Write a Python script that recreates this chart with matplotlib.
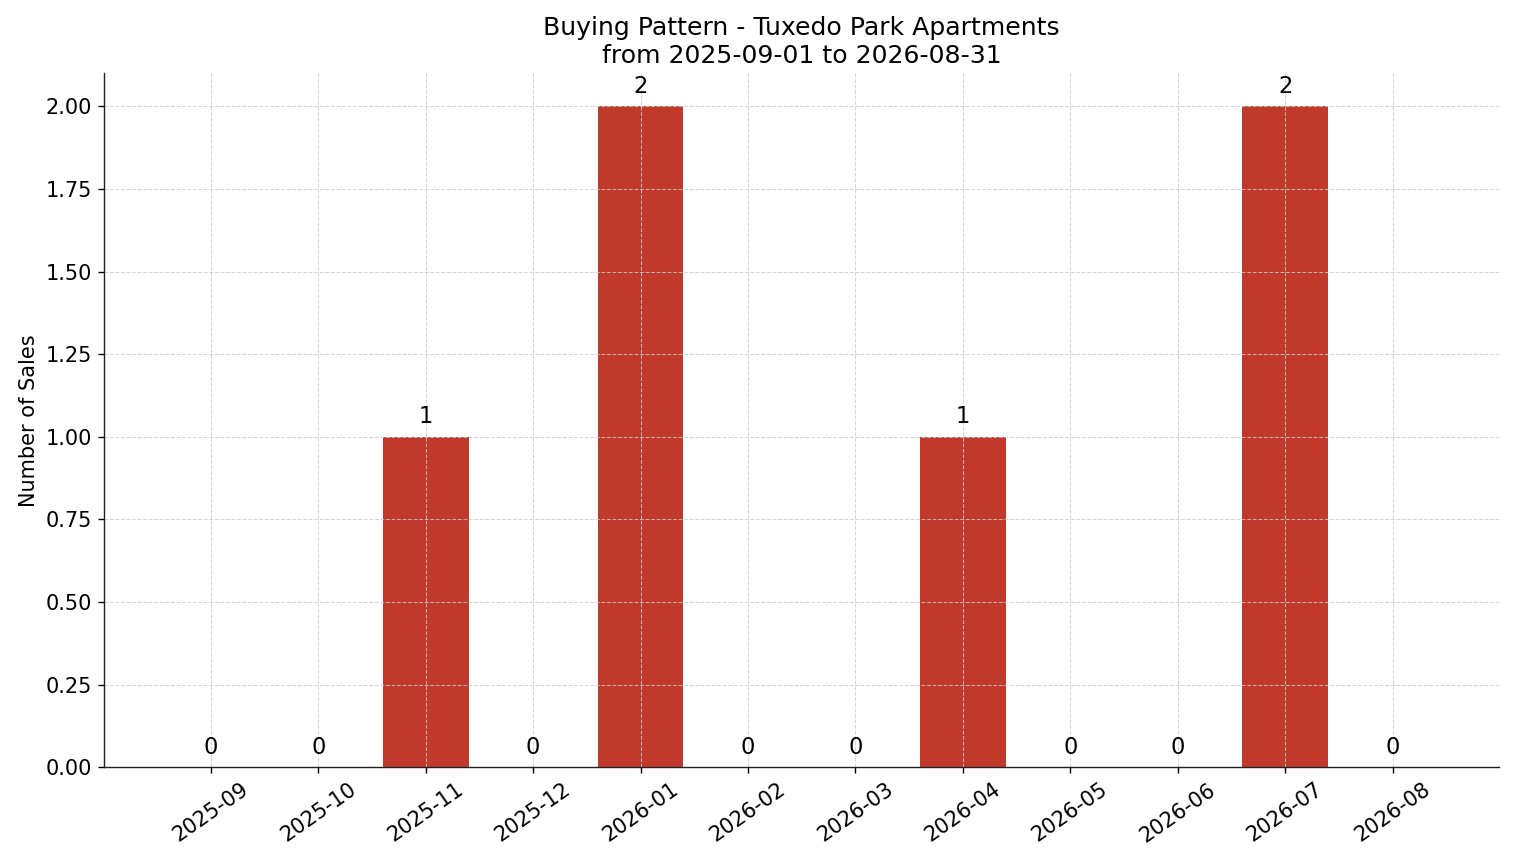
import matplotlib
matplotlib.use("Agg")
import matplotlib.pyplot as plt

months = ["2025-09", "2025-10", "2025-11", "2025-12", "2026-01", "2026-02",
          "2026-03", "2026-04", "2026-05", "2026-06", "2026-07", "2026-08"]
sales = [0, 0, 1, 0, 2, 0, 0, 1, 0, 0, 2, 0]

fig, ax = plt.subplots(figsize=(12.112, 6.904), dpi=125)
x = range(len(months))
bars = ax.bar(x, sales, width=0.8, color="#c0392b")
ax.bar_label(bars, labels=[str(v) for v in sales], padding=5, fontsize=13)

ax.set_xticks(list(x))
ax.set_xticklabels(months, rotation=35, fontsize=12)
ax.tick_params(axis="y", labelsize=12)
ax.set_ylabel("Number of Sales", fontsize=12)
ax.set_title("Buying Pattern - Tuxedo Park Apartments\nfrom 2025-09-01 to 2026-08-31", fontsize=14.5)
ax.grid(True, linestyle="--", color="#cccccc", linewidth=0.6, alpha=0.8)
ax.spines["top"].set_visible(False)
ax.spines["right"].set_visible(False)
for side in ("left", "bottom"):
    ax.spines[side].set_color("#222222")

fig.subplots_adjust(left=0.069, right=0.99, top=0.915, bottom=0.111)
fig.savefig("out.png", dpi=125)
